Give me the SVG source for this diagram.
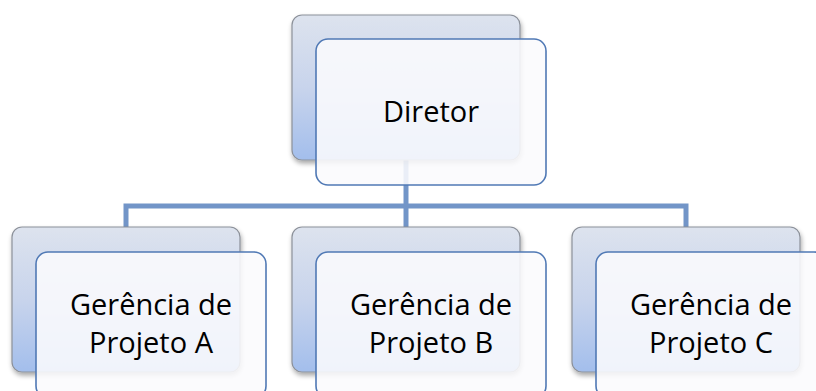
<svg xmlns="http://www.w3.org/2000/svg" width="816" height="391" viewBox="0 0 816 391">
<style>
.back{fill:url(#gb);stroke:#8c919a;stroke-width:1.2;filter:url(#sh)}
.front{fill:#fafbfd;fill-opacity:0.88;stroke:#5079b5;stroke-width:1.6}
.lbl{font-family:"Open Sans","Noto Sans",sans-serif;font-size:29px;fill:#000;text-anchor:middle}
.conn{fill:none;stroke:#7295c8;stroke-width:5;stroke-linejoin:miter}
</style>
<defs>
<linearGradient id="gb" x1="0" y1="0" x2="0" y2="1">
<stop offset="0" stop-color="#dde3ee"/>
<stop offset="0.5" stop-color="#c8d4ec"/>
<stop offset="1" stop-color="#a3beec"/>
</linearGradient>
<filter id="sh" x="-10%" y="-10%" width="125%" height="130%">
<feGaussianBlur in="SourceAlpha" stdDeviation="2.5"/>
<feOffset dx="1" dy="3" result="b"/>
<feComponentTransfer><feFuncA type="linear" slope="0.35"/></feComponentTransfer>
<feMerge><feMergeNode/><feMergeNode in="SourceGraphic"/></feMerge>
</filter>
</defs>
<rect width="816" height="391" fill="#fff"/>
<g id="connectors">
<path class="conn" d="M126,228 V206 H686 V228"/>
<path class="conn" d="M406,160 V228"/>
</g>
<g id="director">
<rect class="back" x="292" y="15" width="228" height="145" rx="10"/>
<rect class="front" x="316" y="39" width="230" height="146" rx="12"/>
<text class="lbl" x="431" y="122">Diretor</text>
</g>
<g id="gerencia-a">
<rect class="back" x="12" y="227" width="228" height="145" rx="10"/>
<rect class="front" x="36" y="252" width="230" height="146" rx="12"/>
<text class="lbl" x="151" y="315">Gerência de</text>
<text class="lbl" x="151" y="353">Projeto A</text>
</g>
<g id="gerencia-b">
<rect class="back" x="292" y="227" width="228" height="145" rx="10"/>
<rect class="front" x="316" y="252" width="230" height="146" rx="12"/>
<text class="lbl" x="431" y="315">Gerência de</text>
<text class="lbl" x="431" y="353">Projeto B</text>
</g>
<g id="gerencia-c">
<rect class="back" x="572" y="227" width="228" height="145" rx="10"/>
<rect class="front" x="596" y="252" width="230" height="146" rx="12"/>
<text class="lbl" x="711" y="315">Gerência de</text>
<text class="lbl" x="711" y="353">Projeto C</text>
</g>
</svg>
